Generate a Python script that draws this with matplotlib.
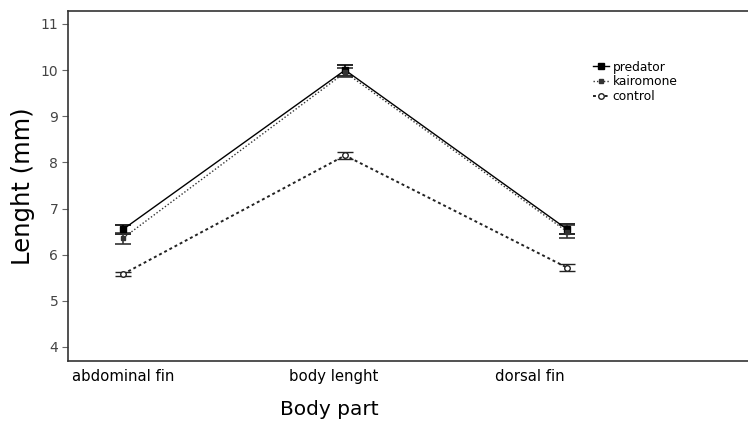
import matplotlib.pyplot as plt
from matplotlib.lines import Line2D

parts = ['abdominal fin', 'body lenght', 'dorsal fin']
groups = ['predator', 'kairomone', 'control']

predator = [6.55, 10.0, 6.55]
predator_err = [0.10, 0.12, 0.11]
kairomone = [6.36, 9.95, 6.50]
kairomone_err = [0.12, 0.10, 0.14]
control = [5.58, 8.15, 5.72]
control_err = [0.05, 0.08, 0.08]

yticks = [4, 5, 6, 7, 8, 9, 10, 11]

fig = plt.figure(figsize=(7.48, 4.23), dpi=100)
ax = fig.add_axes([0.091, 0.147, 0.909, 0.827])

x = list(range(len(parts)))

styles = {
    'predator': dict(color='black', lw=1.0, ls='-', marker='s', ms=4),
    'kairomone': dict(color='#333333', lw=1.0, ls=(0, (1, 1.5)), marker='s', ms=3),
    'control': dict(color='#222222', lw=1.4, ls=(0, (1.5, 1.5)), marker='o', ms=4,
                    mfc='white', mew=1.0),
}

ax.errorbar(x, predator, yerr=predator_err, capsize=6, elinewidth=1.2,
            capthick=1.2, **styles['predator'])
ax.errorbar(x, kairomone, yerr=kairomone_err, capsize=6, elinewidth=1.2,
            capthick=1.2, **styles['kairomone'])
ax.errorbar(x, control, yerr=control_err, capsize=6, elinewidth=1.2,
            capthick=1.2, **styles['control'])

ax.set_xlim(-0.248, 2.815)
ax.set_ylim(3.7, 11.28)
ax.set_yticks(yticks)
ax.set_yticklabels([str(t) for t in yticks], color='#444444', fontsize=10)
ax.tick_params(axis='y', length=4, width=0.8, color='#666666', pad=3)

# category labels sit a little off the points in the original
ax.set_xticks([0, 0.95, 1.83])
ax.set_xticklabels(parts, fontsize=10.7)
ax.tick_params(axis='x', length=0, pad=6)

ax.spines['right'].set_visible(False)
for s in ['left', 'top', 'bottom']:
    ax.spines[s].set_linewidth(1.2)
    ax.spines[s].set_color('#333333')

ax.set_ylabel('Lenght (mm)', fontsize=17.5)
ax.yaxis.set_label_coords(-0.049, 0.5)
ax.set_xlabel('Body part', fontsize=14.5)
ax.xaxis.set_label_coords(0.384, -0.113)

handles = [Line2D([], [], **styles[g]) for g in groups]
ax.legend(handles, groups, loc='upper left', bbox_to_anchor=(0.765, 0.872),
          frameon=False, fontsize=8.8, handlelength=1.3, handletextpad=0.3,
          labelspacing=0.15, borderaxespad=0)

fig.savefig('out.png', dpi=100)
